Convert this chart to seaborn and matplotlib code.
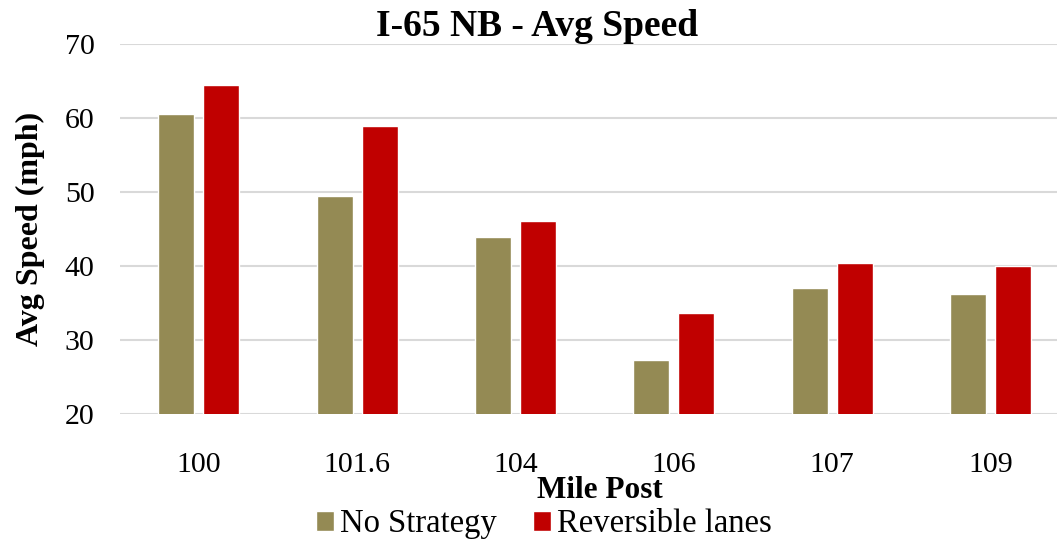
import matplotlib
matplotlib.use("Agg")
import matplotlib.pyplot as plt
import seaborn as sns
import pandas as pd

categories = ["100", "101.6", "104", "106", "107", "109"]
no_strategy = [60.6, 49.4, 43.9, 27.3, 37.0, 36.2]
reversible = [64.5, 58.9, 46.1, 33.6, 40.4, 40.0]
series_names = ["No Strategy", "Reversible lanes"]
colors = ["#948A54", "#C00000"]
y_ticks = [20, 30, 40, 50, 60, 70]

df = pd.DataFrame({
    "Mile Post": categories * 2,
    "Speed": no_strategy + reversible,
    "Series": [series_names[0]] * len(categories) + [series_names[1]] * len(categories),
})

sns.set_theme(style="white")
plt.rcParams["font.family"] = ["Liberation Serif", "DejaVu Serif"]
plt.rcParams["text.color"] = "black"
plt.rcParams["axes.labelcolor"] = "black"

fig = plt.figure(figsize=(10.57, 5.40), dpi=100)
L, R, T, B = 119.5, 1069.7, 44, 414
W, H = 1057, 540
ax = fig.add_axes([L / W, 1 - B / H, (R - L) / W, (B - T) / H])

sns.barplot(data=df, x="Mile Post", y="Speed", hue="Series", order=categories,
            hue_order=series_names, palette=colors, width=0.568, gap=0.2,
            saturation=1, ax=ax, legend=True, errorbar=None)

ax.set_ylim(20, 70)
ax.set_yticks(y_ticks)
ax.set_xlim(-0.5, len(categories) - 0.5)
ax.yaxis.grid(True, color="#d9d9d9", linewidth=1.5)
ax.set_axisbelow(True)
for s in ax.spines.values():
    s.set_visible(False)
ax.tick_params(axis="both", length=0, labelsize=21.5, colors="black")
ax.tick_params(axis="x", pad=27)
ax.tick_params(axis="y", pad=18)

ax.set_xlabel("Mile Post", fontsize=22.5, fontweight="bold")
ax.xaxis.set_label_coords((600 - L) / (R - L), (B - 491) / (B - T))
ax.xaxis.label.set_va("center")
ax.set_ylabel("Avg Speed (mph)", fontsize=23, fontweight="bold")
ax.yaxis.set_label_coords((30 - L) / (R - L), 0.5)
ax.yaxis.label.set_va("center")

fig.text(537 / W, 1 - 27 / H, "I-65 NB - Avg Speed", fontsize=27, fontweight="bold",
         ha="center", va="center", color="black")

handles, labels = ax.get_legend_handles_labels()
ax.get_legend().remove()
fig.legend(handles, labels, loc="center", bbox_to_anchor=(544 / W, 1 - 524 / H),
           ncol=2, frameon=False, fontsize=23.5, handlelength=0.55, handleheight=0.55,
           handletextpad=0.2, columnspacing=1.1, borderaxespad=0, borderpad=0)

fig.savefig("out.png", dpi=100)
